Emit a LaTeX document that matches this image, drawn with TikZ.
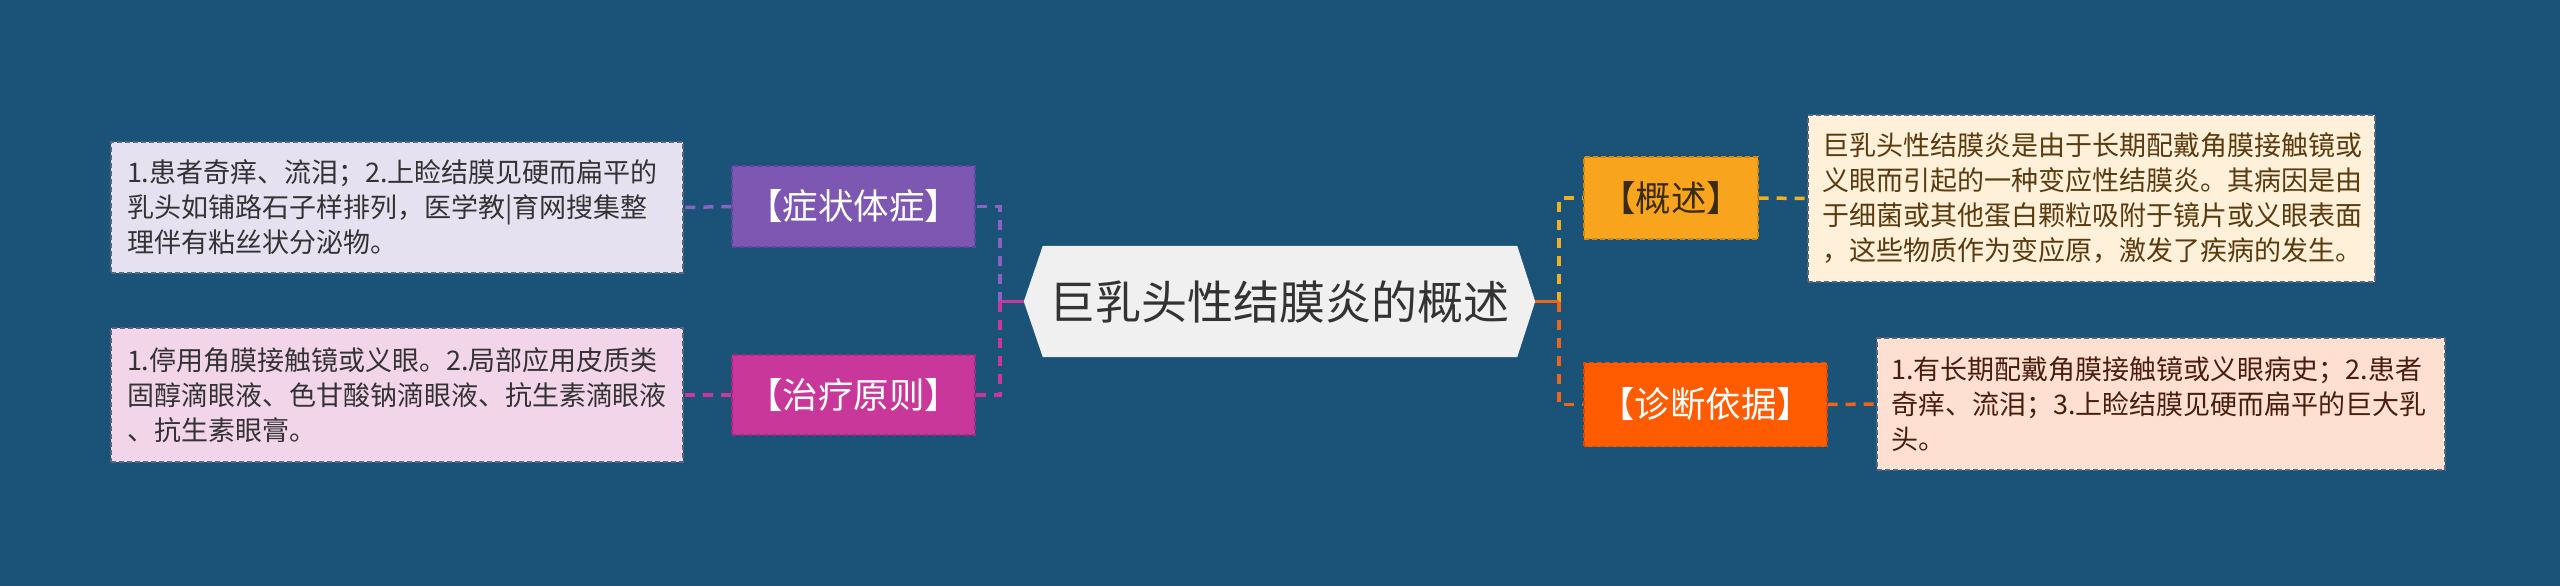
\documentclass[tikz,border=0pt]{standalone}
\usepackage{fontspec}
\setmainfont{Noto Sans CJK SC}
\definecolor{bgc}{HTML}{1A5377}
\definecolor{hexfill}{HTML}{F0F0F0}
\definecolor{darktxt}{HTML}{333333}
\definecolor{cpurple}{HTML}{7E57B2}
\definecolor{cpurpleb}{HTML}{6443A0}
\definecolor{cpink}{HTML}{C9379B}
\definecolor{cpinkb}{HTML}{A8287F}
\definecolor{cyellow}{HTML}{F8A51D}
\definecolor{cyellowb}{HTML}{D08A10}
\definecolor{corange}{HTML}{FF5B00}
\definecolor{corangeb}{HTML}{D84A00}
\definecolor{lnyellow}{HTML}{F2AF1E}
\definecolor{lnorange}{HTML}{EE6418}
\definecolor{lnpurple}{HTML}{8A62C2}
\definecolor{leafA}{HTML}{E6E1F1}
\definecolor{leafB}{HTML}{F3D5EA}
\definecolor{leafC}{HTML}{FEF0D9}
\definecolor{leafD}{HTML}{FDE0D2}
\definecolor{leafborder}{HTML}{56677E}
\definecolor{txtC}{HTML}{5A3A0E}
\definecolor{txtD}{HTML}{4A1E0E}
\definecolor{gaitxt}{HTML}{3A2A10}
\pgfdeclarelayer{bg}
\pgfdeclarelayer{mid}
\pgfsetlayers{bg,mid,main}
\tikzset{
  leafbox/.style={rectangle, draw=leafborder, line width=1.3pt, dash pattern=on 5pt off 3pt,
    inner xsep=16pt, inner ysep=0pt, align=left, text width=540pt,
    font=\fontsize{27}{35}\selectfont},
  catbox/.style={rectangle, line width=1.3pt, dash pattern=on 5pt off 3pt, inner sep=0pt,
    font=\fontsize{35.5}{40}\selectfont},
  link/.style={line width=3.5pt, dash pattern=on 10pt off 8pt},
  stem/.style={line width=3.5pt},
}
\begin{document}
\begin{tikzpicture}[x=1pt,y=-1pt]
\useasboundingbox (0,0) rectangle (2560,586);
\begin{pgfonlayer}{bg}
\fill[bgc] (0,0) rectangle (2560,586);
\end{pgfonlayer}

% root
\node[minimum width=511pt, minimum height=111pt, inner sep=0pt,
  font=\fontsize{46}{50}\selectfont, text=darktxt] (root) at (1279.5,301.5) {巨乳头性结膜炎的概述};
\begin{pgfonlayer}{mid}
\fill[hexfill] (root.west) -- ([xshift=19pt]root.north west) -- ([xshift=-18pt]root.north east)
  -- (root.east) -- ([xshift=-18pt]root.south east) -- ([xshift=19pt]root.south west) -- cycle;
\end{pgfonlayer}

% category boxes
\node[catbox, fill=cpurple, draw=cpurpleb, text=white, minimum width=243pt, minimum height=81pt]
  (sym) at (853.5,206.5) {【症状体症】};
\node[catbox, fill=cpink, draw=cpinkb, text=white, minimum width=243pt, minimum height=80pt]
  (treat) at (853.5,395) {【治疗原则】};
\node[catbox, fill=cyellow, draw=cyellowb, text=gaitxt, minimum width=174pt, minimum height=82pt]
  (gai) at (1671,198) {【概述】};
\node[catbox, fill=corange, draw=corangeb, text=white, minimum width=243pt, minimum height=84pt]
  (diag) at (1705.5,404.5) {【诊断依据】};

% leaves
\node[leafbox, fill=leafA, text=darktxt, minimum height=131pt] (l1) at (397,207.5)
  {1.患者奇痒、流泪；2.上睑结膜见硬而扁平的\\乳头如铺路石子样排列，医学教|育网搜集整\\理伴有粘丝状分泌物。};
\node[leafbox, fill=leafB, text=darktxt, minimum height=134pt] (l2) at (397,395)
  {1.停用角膜接触镜或义眼。2.局部应用皮质类\\固醇滴眼液、色甘酸钠滴眼液、抗生素滴眼液\\、抗生素眼膏。};
\node[leafbox, fill=leafC, text=txtC, inner xsep=14pt, text width=539pt, minimum height=167pt] (r1) at (2091.5,198.5)
  {巨乳头性结膜炎是由于长期配戴角膜接触镜或\\义眼而引起的一种变应性结膜炎。其病因是由\\于细菌或其他蛋白颗粒吸附于镜片或义眼表面\\，这些物质作为变应原，激发了疾病的发生。};
\node[leafbox, fill=leafD, text=txtD, inner xsep=14pt, text width=540pt, minimum height=132pt] (r2) at (2161,404)
  {1.有长期配戴角膜接触镜或义眼病史；2.患者\\奇痒、流泪；3.上睑结膜见硬而扁平的巨大乳\\头。};

% brackets
\coordinate (bl) at (1000,301.5);
\coordinate (br) at (1559,301.5);
\draw[link, lnpurple] (bl) |- (sym.east);
\draw[link, cpink] (bl) |- (treat.east);
\draw[stem, cpink] (root.west) -- (bl);
\draw[link, lnyellow] (br) |- (gai.west);
\draw[link, lnorange] (br) |- (diag.west);
\draw[stem, lnorange] (root.east) -- (br);

% leaf links
\draw[link, lnpurple] (sym.west) -- (l1.east);
\draw[link, cpink] (treat.west) -- (l2.east);
\draw[link, lnyellow] (gai.east) -- (r1.west);
\draw[link, lnorange] (diag.east) -- (r2.west);
\end{tikzpicture}
\end{document}
